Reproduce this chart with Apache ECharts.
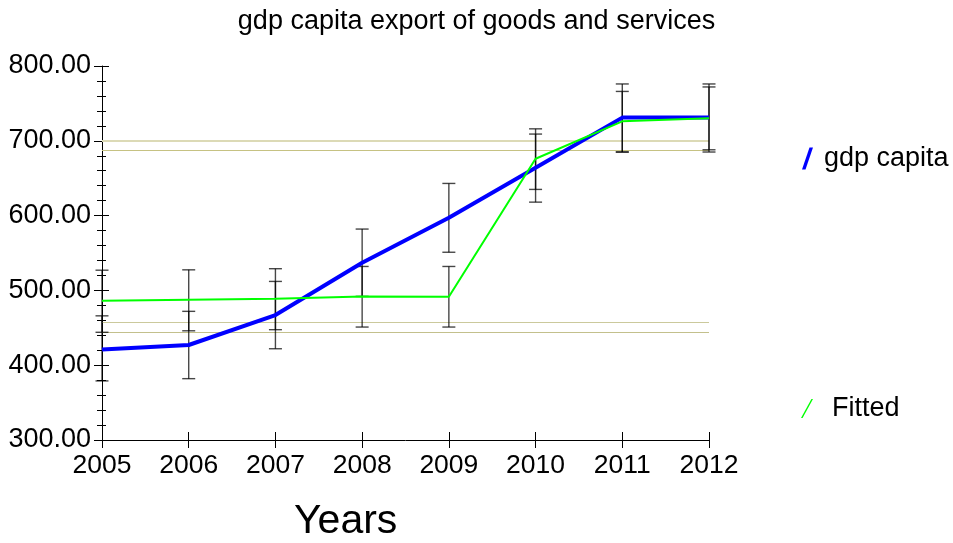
<!DOCTYPE html>
<html>
<head>
<meta charset="utf-8">
<script src="https://cdn.jsdelivr.net/npm/echarts@6/dist/echarts.min.js"></script>
<style>html,body{margin:0;padding:0;background:#fff;}#c{width:953px;height:543px;}</style>
</head>
<body>
<div id="c"></div>
<script>
var years = ['2005','2006','2007','2008','2009','2010','2011','2012'];
var gdpCapita = [421, 427, 467, 537, 597, 664, 731, 731];
var fitted = [486, 487.5, 489, 492, 491.5, 676, 726, 730];
var gdpLow = [379, 382, 422, 492, 551, 618, 685, 685];
var gdpHigh = [466, 472, 512, 582, 643, 709, 776, 776];
var fitLow = [444, 446, 447.5, 451, 451, 635, 685, 688];
var fitHigh = [527, 527.5, 529, 532, 532, 716, 766, 772];
var refLines = [699.6, 687.7, 456.8, 443.8];

var FONT = '"Liberation Sans", Arial, Helvetica, sans-serif';
var chart = echarts.init(document.getElementById('c'), null, {renderer:'canvas'});

var errData = [];
for (var i = 0; i < years.length; i++) {
  errData.push([i, gdpLow[i], gdpHigh[i]]);
  errData.push([i, fitLow[i], fitHigh[i]]);
}

function renderErr(params, api) {
  var x = api.value(0);
  var lo = api.coord([x, api.value(1)]);
  var hi = api.coord([x, api.value(2)]);
  var hw = 6.5;
  var st = {stroke:'rgba(0,0,0,0.72)', lineWidth:1.4};
  return {type:'group', children:[
    {type:'line', shape:{x1:hi[0], y1:hi[1], x2:lo[0], y2:lo[1]}, style:st},
    {type:'line', shape:{x1:hi[0]-hw, y1:hi[1], x2:hi[0]+hw, y2:hi[1]}, style:st},
    {type:'line', shape:{x1:lo[0]-hw, y1:lo[1], x2:lo[0]+hw, y2:lo[1]}, style:st}
  ]};
}

var refColors = ['#dcdab6', '#c6c283', '#cbc99c', '#c3c08c'];
var refWidths = [2, 1.2, 1.2, 1.2];
var markData = refLines.map(function(v, k){
  return {yAxis: v, lineStyle:{color: refColors[k], width: refWidths[k], type:'solid'}};
});

var option = {
  animation: false,
  backgroundColor: '#fff',
  textStyle: {fontFamily: FONT},
  title: [
    {text:'gdp capita export of goods and services', left:'center', top:8, padding:0,
     textStyle:{fontSize:27, fontWeight:'normal', color:'#000', fontFamily:FONT}},
    {text:'Years', left:294, top:501, padding:0,
     textStyle:{fontSize:41, fontWeight:'normal', color:'#000', fontFamily:FONT}}
  ],
  legend: [
    {data:[{name:'gdp capita', icon:'path://M7.5,0 L11,0 L3.5,22 L0,22 Z'}],
     left:797, top:140, itemWidth:11, itemHeight:22, selectedMode:false, symbolKeepAspect:false,
     textStyle:{fontSize:27, color:'#000', fontFamily:FONT, padding:[0,0,0,6]}},
    {data:[{name:'Fitted', icon:'path://M10,0 L11.5,0 L1.5,18 L0,18 Z'}],
     left:796, top:390, itemWidth:12, itemHeight:19, selectedMode:false, symbolKeepAspect:false,
     textStyle:{fontSize:27, color:'#000', fontFamily:FONT, padding:[0,0,0,14]}}
  ],
  grid: {left:102, right:244, top:66, bottom:103, containLabel:false},
  xAxis: [
    {type:'category', data:years, boundaryGap:false, position:'bottom',
     axisLine:{show:true, onZero:false, lineStyle:{color:'#000', width:1}},
     axisTick:{show:true, length:8, interval:0, lineStyle:{color:'#000'}},
     axisLabel:{interval:0, fontSize:26.5, color:'#000', margin:12, fontFamily:FONT},
     splitLine:{show:false}},
    {type:'category', data:years, boundaryGap:false, position:'bottom',
     axisLine:{show:false, onZero:false},
     axisTick:{show:true, inside:true, length:8, interval:0, lineStyle:{color:'#000'}},
     axisLabel:{show:false}, splitLine:{show:false}}
  ],
  yAxis: [
    {type:'value', min:300, max:800, interval:100, position:'left',
     axisLine:{show:true, lineStyle:{color:'#000', width:1}},
     axisTick:{show:true, length:8, lineStyle:{color:'#000'}},
     minorTick:{show:true, splitNumber:5, length:5, lineStyle:{color:'#000'}},
     splitLine:{show:false}, minorSplitLine:{show:false},
     axisLabel:{formatter:function(v){return v.toFixed(2);}, fontSize:27, color:'#000', margin:11, fontFamily:FONT}},
    {type:'value', min:300, max:800, interval:100, position:'left',
     axisLine:{show:false},
     axisTick:{show:true, inside:true, length:7, lineStyle:{color:'#000'}},
     minorTick:{show:true, splitNumber:5, length:4, lineStyle:{color:'#000'}},
     splitLine:{show:false}, axisLabel:{show:false}}
  ],
  series: [
    {type:'custom', name:'errors', xAxisIndex:0, yAxisIndex:0, z:2, silent:true,
     renderItem: renderErr, data: errData, encode:{x:0, y:[1,2]},
     markLine:{symbol:'none', silent:true, z:1, label:{show:false}, data: markData}},
    {type:'line', name:'gdp capita', data:gdpCapita, xAxisIndex:0, yAxisIndex:0, z:3,
     showSymbol:false, symbol:'none', color:'#0000ff', lineStyle:{color:'#0000ff', width:4}},
    {type:'line', name:'Fitted', data:fitted, xAxisIndex:0, yAxisIndex:0, z:4,
     showSymbol:false, symbol:'none', color:'#00ff00', lineStyle:{color:'#00ff00', width:2}}
  ]
};
chart.setOption(option);
</script>
</body>
</html>
